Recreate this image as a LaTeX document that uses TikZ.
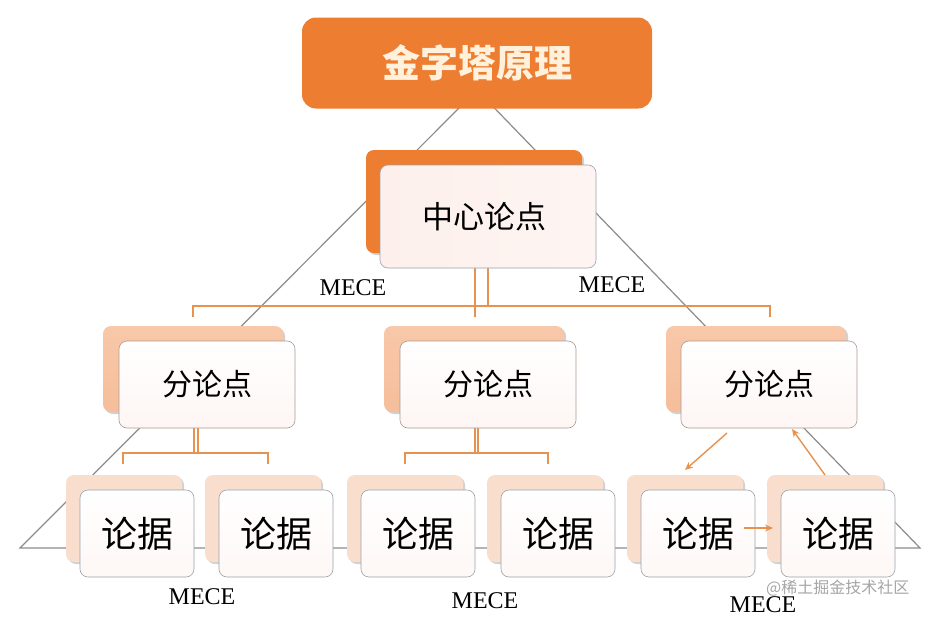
\documentclass[tikz,border=0pt]{standalone}
\usepackage{fontspec}
\setmainfont{Liberation Serif}
\newfontfamily\cjk{Noto Sans CJK SC}
\usetikzlibrary{shadows,arrows.meta}
\definecolor{orangeA}{HTML}{ED7D31}
\definecolor{peachA}{HTML}{F6BE9A}
\definecolor{peachB}{HTML}{F9DECD}
\definecolor{pinkF}{HTML}{FDF0EC}
\definecolor{lineO}{HTML}{E8924F}
\definecolor{triG}{HTML}{8C8C8C}
\definecolor{boxB}{HTML}{9AA3AB}
\definecolor{creamT}{HTML}{FFF1DC}
\tikzset{
  sh/.style={drop shadow={shadow xshift=2pt,shadow yshift=-2pt,opacity=0.18,fill=black}},
  titlebox/.style={rounded corners=14pt,fill=orangeA,minimum width=350,minimum height=91,inner sep=0,text=creamT,font=\cjk\bfseries\fontsize{38}{42}\selectfont},
  backC/.style={rounded corners=8pt,fill=orangeA,minimum width=216,minimum height=103,inner sep=0,sh},
  frontC/.style={rounded corners=8pt,draw=boxB,line width=0.6pt,left color=pinkF,right color=pinkF!70!white,minimum width=216,minimum height=103,inner sep=0,font=\cjk\fontsize{31}{34}\selectfont},
  back2/.style={rounded corners=8pt,top color=peachA!85!white,bottom color=peachA,minimum width=180,minimum height=86,inner sep=0,sh},
  front2/.style={rounded corners=8pt,draw=boxB!80!orangeA,line width=0.6pt,top color=white,bottom color=pinkF!60!white,minimum width=176,minimum height=87,inner sep=0,font=\cjk\fontsize{30}{33}\selectfont},
  back3/.style={rounded corners=8pt,fill=peachB,minimum width=116,minimum height=87,inner sep=0,sh},
  front3/.style={rounded corners=8pt,draw=boxB,line width=0.6pt,top color=white,bottom color=pinkF!50!white,minimum width=114,minimum height=87,inner sep=0,font=\cjk\fontsize{36}{40}\selectfont},
  mece/.style={font=\fontsize{24}{26}\selectfont,inner sep=0},
  conn/.style={draw=lineO,line width=2pt},
  arr/.style={draw=lineO,line width=1.4pt,-{Stealth[length=8pt,width=7pt]}},
  tri/.style={draw=triG,line width=1.2pt}
}
\begin{document}
\begin{tikzpicture}[x=1pt,y=-1pt]
\useasboundingbox (0,0) rectangle (939,621);
\fill[white] (0,0) rectangle (939,621);
% pyramid outline
\coordinate (apex) at (477,90);
\coordinate (bl) at (20,548);
\coordinate (br) at (920,548);
\draw[tri] (apex) -- (bl) -- (br) -- cycle;
% connectors top level
\coordinate (h1l) at (193,306);
\coordinate (h1r) at (770,306);
\coordinate (c1a) at (475,268);
\coordinate (c1b) at (488,268);
\draw[conn] (c1a) -- (475,317);
\draw[conn] (c1b) -- (488,306);
\draw[conn] (193,317) -- (h1l) -- (h1r) -- (770,317);
% connectors level 2 left
\draw[conn] (194,428) -- (194,453);
\draw[conn] (198,428) -- (198,453);
\draw[conn] (123,464) -- (123,453) -- (268,453) -- (268,464);
% level 2 middle
\draw[conn] (475,428) -- (475,453);
\draw[conn] (478,428) -- (478,453);
\draw[conn] (405,464) -- (405,453) -- (548,453) -- (548,464);
% title
\node[titlebox] (title) at (477,63) {金字塔原理};
% central
\node[backC] (cb) at (474,201.5) {};
\node[frontC] (cf) at (488,216.5) {\hspace*{-8pt}中心论点};
% level 2
\node[back2] (b2a) at (193,369) {};
\node[front2] (f2a) at (207,384.5) {分论点};
\node[back2] (b2b) at (474,369) {};
\node[front2] (f2b) at (488,384.5) {分论点};
\node[back2] (b2c) at (756,369) {};
\node[front2] (f2c) at (769,384.5) {分论点};
% level 3
\foreach \i/\bx in {1/124,2/263,3/405,4/545,5/685,6/825}{
  \node[back3] (b3\i) at (\bx,518.5) {};
  \node[front3] (f3\i) at (\bx+13,533.5) {论据};
}
% arrows on right branch
\coordinate (a1s) at (727,433);
\coordinate (a1e) at (685,470);
\coordinate (a2s) at (825,475);
\coordinate (a2e) at (792,429);
\coordinate (a3s) at (744,528);
\coordinate (a3e) at (773,528);
\draw[arr] (a1s) -- (a1e);
\draw[arr] (a2s) -- (a2e);
\draw[arr] (a3s) -- (a3e);
% MECE labels
\node[mece] (m1) at (353,288) {MECE};
\node[mece] (m2) at (612,285) {MECE};
\node[mece] (m3) at (202,597) {MECE};
\node[mece] (m4) at (485,601) {MECE};
\node[mece] (m5) at (763,605) {MECE};
% watermark
\node[font=\cjk\fontsize{16}{18}\selectfont,text=black!35,inner sep=0,anchor=west] (wm) at (766,588) {@稀土掘金技术社区};
\end{tikzpicture}
\end{document}
